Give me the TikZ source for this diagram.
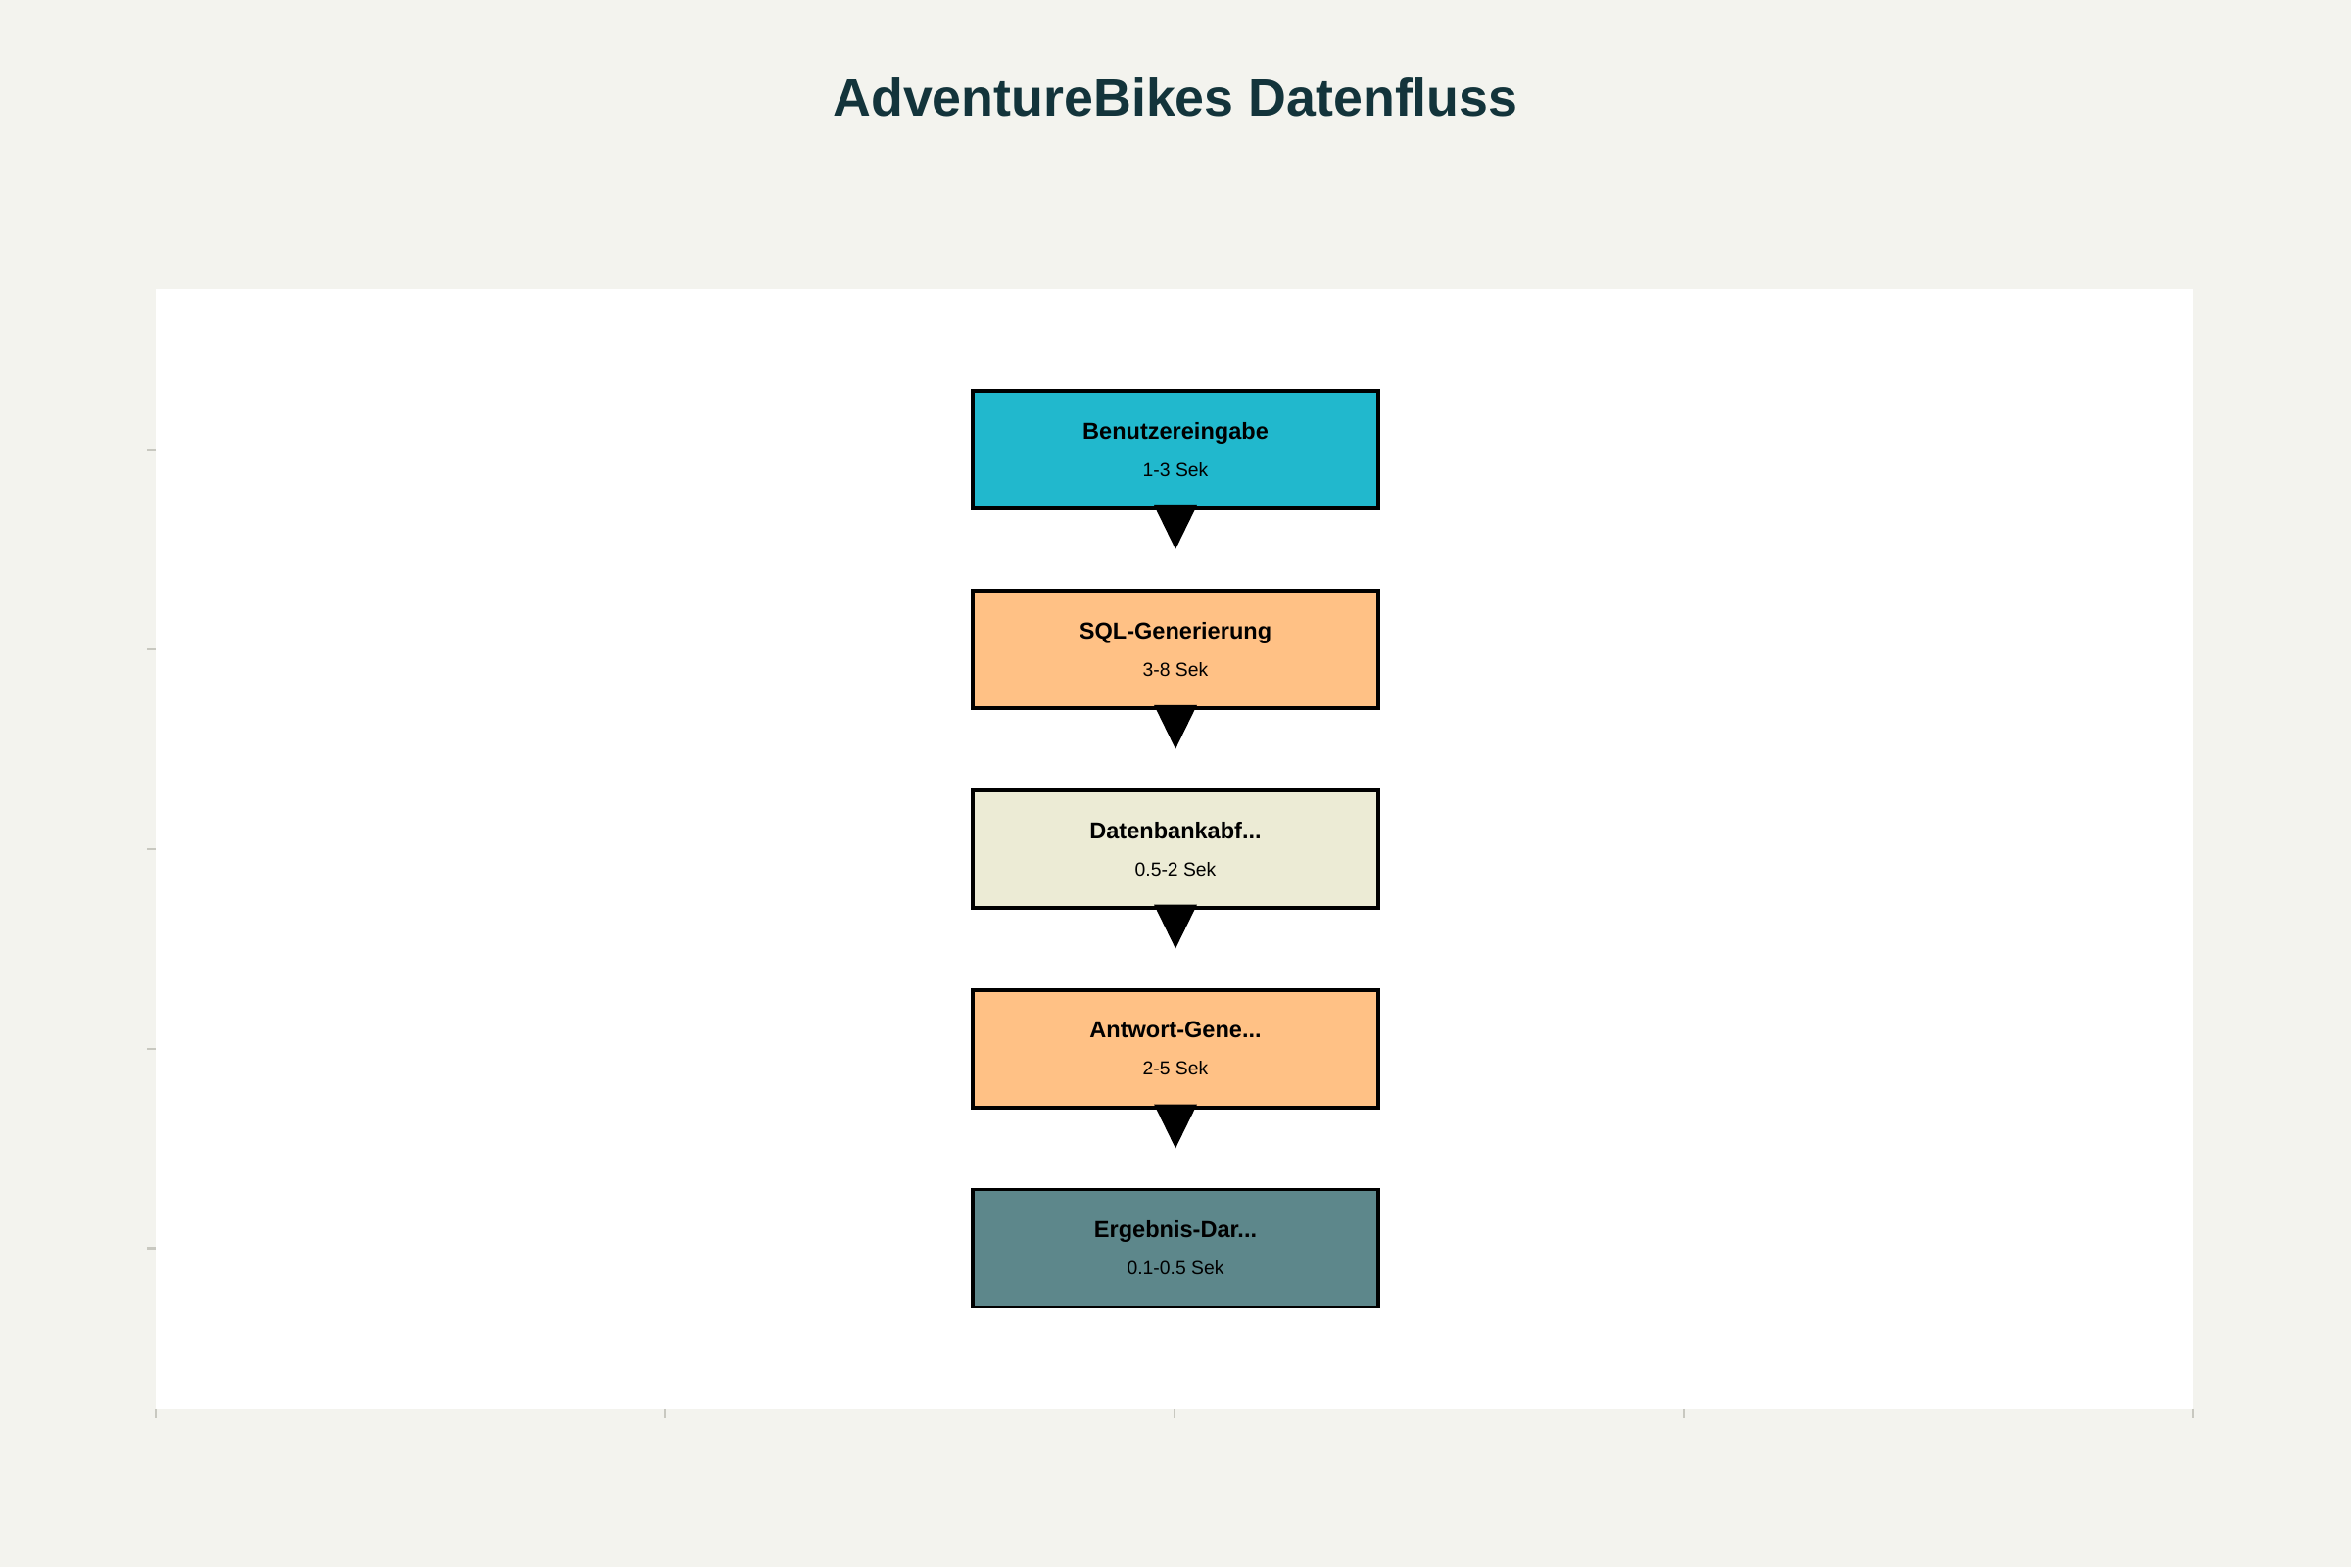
\documentclass[tikz,border=0pt]{standalone}
\usepackage{fontspec}
\setmainfont{Liberation Sans}
\usetikzlibrary{positioning,calc}

\definecolor{pagebg}{HTML}{F3F3EE}
\definecolor{titleteal}{HTML}{13343B}
\definecolor{tickgray}{HTML}{C8C8C0}
\definecolor{stagecyan}{HTML}{21B8CD}
\definecolor{stageorange}{HTML}{FFC185}
\definecolor{stagebeige}{HTML}{ECEBD5}
\definecolor{stageslate}{HTML}{5D878B}

\newcommand{\stagetext}[2]{{\bfseries\fontsize{6.7}{8}\selectfont #1}\\[3.8pt]#2}

\begin{document}
\begin{tikzpicture}[>=latex, node distance=8.0mm, every node/.style={font=\fontsize{5.5}{7}\selectfont},
    stage/.style={draw=black, line width=1.1pt, minimum width=4.14cm, minimum height=1.20cm, align=center, inner sep=0pt},
    tick/.style={draw=tickgray, line width=0.6pt}]
    % page and plot area
    \fill[pagebg] (0,0) rectangle (24,16);
    \useasboundingbox (0,0) rectangle (24,16);
    \fill[white] (1.59,1.61) rectangle (22.39,13.05);
    \coordinate (axl) at (1.59,0);
    % title
    \node[font=\bfseries\fontsize{15.3}{19}\selectfont, text=titleteal, anchor=base] (title) at (12,14.81) {AdventureBikes Datenfluss};
    % stages
    \node[stage, fill=stagecyan] (input) at (12,11.41) {\stagetext{Benutzereingabe}{1-3 Sek}};
    \node[stage, fill=stageorange, below=of input] (sql) {\stagetext{SQL-Generierung}{3-8 Sek}};
    \node[stage, fill=stagebeige, below=of sql] (query) {\stagetext{Datenbankabf...}{0.5-2 Sek}};
    \node[stage, fill=stageorange, below=of query] (answer) {\stagetext{Antwort-Gene...}{2-5 Sek}};
    \node[stage, fill=stageslate, below=of answer] (result) {\stagetext{Ergebnis-Dar...}{0.1-0.5 Sek}};
    % markers
    \foreach \s in {input,sql,query,answer} {
      \fill ($(\s.south)+(-0.22,0.05)$) -- ($(\s.south)+(0.22,0.05)$) -- ($(\s.south)+(0,-0.40)$) -- cycle;
    }
    % ticks
    \foreach \x in {1.59,6.79,11.99,17.19,22.39} {
      \draw[tick] (\x,1.61) -- (\x,1.52);
    }
    \foreach \s in {input,sql,query,answer,result} {
      \draw[tick] (axl |- \s) -- ++(-0.09,0);
    }
  \end{tikzpicture}
\end{document}
